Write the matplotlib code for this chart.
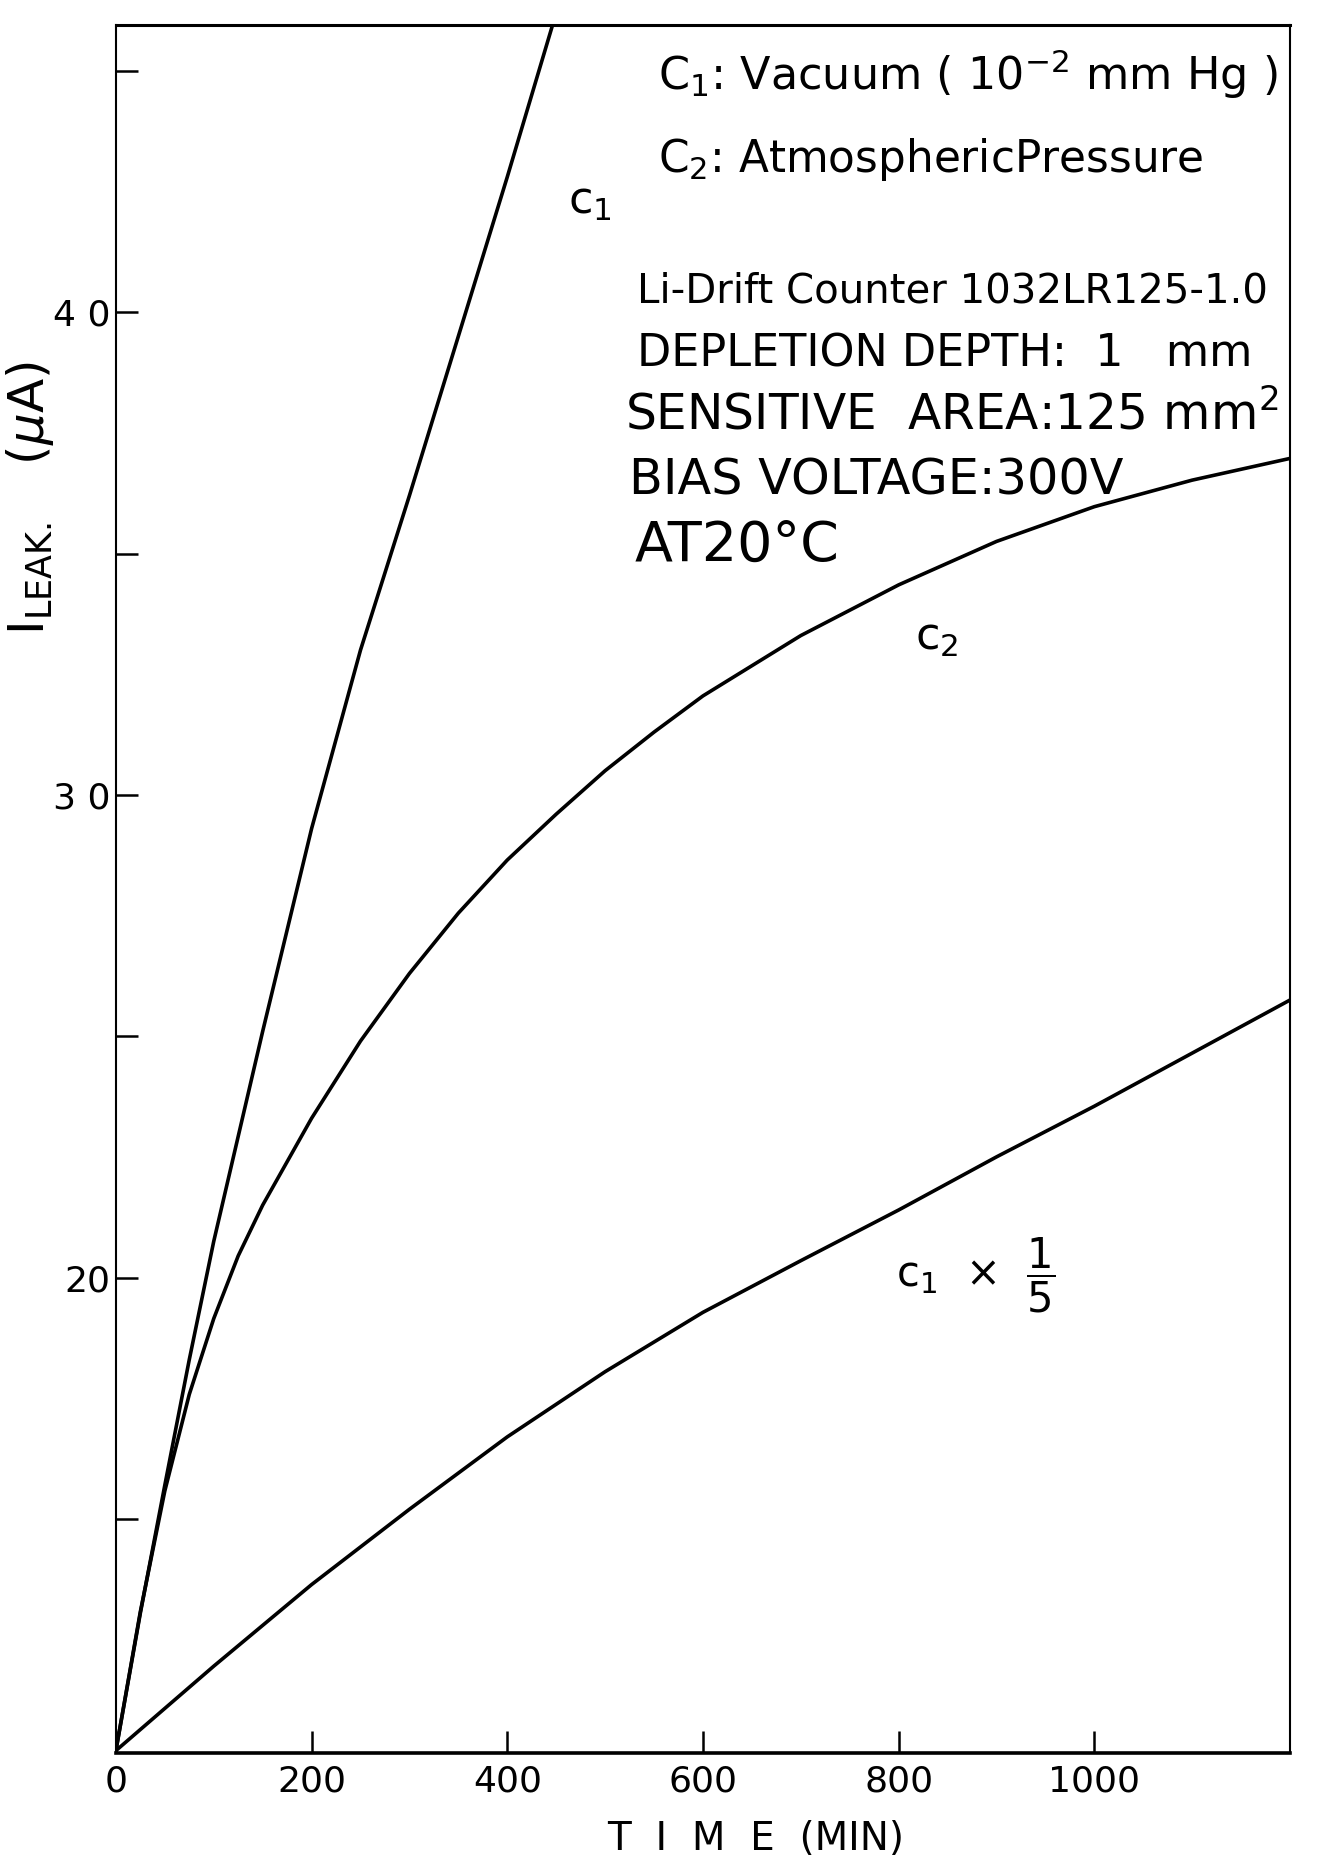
import matplotlib
matplotlib.use("Agg")
import matplotlib.pyplot as plt
from matplotlib.ticker import FixedLocator, FixedFormatter

# time (min) and leakage current (uA)
c1_time = [0, 25, 50, 75, 100, 150, 200, 250, 300, 350, 400, 450]
c1_leak = [10.2, 13.05, 15.7, 18.3, 20.75, 25.1, 29.3, 33.0, 36.2, 39.5, 42.8, 46.2]

c2_time = [0, 25, 50, 75, 100, 125, 150, 200, 250, 300, 350, 400, 450, 500,
           550, 600, 700, 800, 900, 1000, 1100, 1200]
c2_leak = [10.2, 13.08, 15.58, 17.58, 19.15, 20.45, 21.5, 23.3, 24.9, 26.3, 27.55,
           28.65, 29.6, 30.5, 31.3, 32.05, 33.3, 34.35, 35.25, 35.97, 36.52, 36.97]

c1_fifth_time = [0, 100, 200, 300, 400, 500, 600, 700, 800, 900, 1000, 1100, 1200]
c1_fifth_leak = [10.2, 11.95, 13.64, 15.2, 16.7, 18.05, 19.28, 20.35, 21.4,
                 22.5, 23.55, 24.65, 25.75]

x_ticks = [0, 200, 400, 600, 800, 1000]
x_labels = ["0", "200", "400", "600", "800", "1000"]
y_ticks = [20, 30, 40]
y_labels = ["20", "3 0", "4 0"]
y_minor = [15, 25, 35, 45]

plt.rcParams["font.family"] = ["DejaVu Sans"]
plt.rcParams["mathtext.fontset"] = "dejavusans"

fig = plt.figure(figsize=(13.17, 18.61), dpi=100)
ax = fig.add_axes([0.088, 0.058, 0.8915, 0.9286])

for t, v in [(c1_time, c1_leak), (c2_time, c2_leak), (c1_fifth_time, c1_fifth_leak)]:
    ax.plot(t, v, color="black", linewidth=2.6, solid_capstyle="round",
            solid_joinstyle="round")

ax.set_xlim(0, 1200)
ax.set_ylim(10.15, 45.95)

for side in ["left", "right"]:
    ax.spines[side].set_linewidth(1.5)
ax.spines["bottom"].set_linewidth(2.6)
ax.spines["top"].set_linewidth(2.2)

ax.xaxis.set_major_locator(FixedLocator(x_ticks))
ax.xaxis.set_major_formatter(FixedFormatter(x_labels))
ax.yaxis.set_major_locator(FixedLocator(y_ticks))
ax.yaxis.set_major_formatter(FixedFormatter(y_labels))
ax.yaxis.set_minor_locator(FixedLocator(y_minor))
ax.tick_params(axis="both", which="both", direction="in", length=16, width=1.8)
ax.tick_params(axis="x", labelsize=26, pad=8)
ax.tick_params(axis="y", labelsize=26, pad=4)

# annotations
txt = dict(transform=ax.transAxes, color="black", va="center", ha="left")
ax.text(0.462, 0.9716, r"C$_1$: Vacuum ( 10$^{-2}$ mm Hg )", fontsize=32, **txt)
ax.text(0.462, 0.9219, r"C$_2$: AtmosphericPressure", fontsize=31.5, **txt)
ax.text(0.444, 0.846, "Li-Drift Counter 1032LR125-1.0", fontsize=29, **txt)
ax.text(0.444, 0.8096, "DEPLETION DEPTH:  1   mm", fontsize=32, **txt)
ax.text(0.434, 0.7743, r"SENSITIVE  AREA:125 mm$^2$", fontsize=35, **txt)
ax.text(0.437, 0.7365, "BIAS VOLTAGE:300V", fontsize=35.5, **txt)
ax.text(0.442, 0.6985, "AT20°C", fontsize=40, **txt)

lab = dict(transform=ax.transAxes, color="black", va="center", ha="center", fontsize=32)
ax.text(0.4037, 0.8976, r"c$_1$", **lab)
ax.text(0.6993, 0.6453, r"c$_2$", **lab)
ax.text(0.664, 0.2766, r"c$_1$  ×  $\dfrac{1}{5}$", transform=ax.transAxes,
        color="black", va="center", ha="left", fontsize=30)

fig.text(0.574, 0.0118, "T  I  M  E  (MIN)", ha="center", va="center", fontsize=28)
fig.text(0.0228, 0.7324, r"I$_{\mathrm{LEAK.}}$   ($\mu$A)", ha="center", va="center",
         rotation=90, fontsize=36)

fig.savefig("out.png", dpi=100, facecolor="white")
